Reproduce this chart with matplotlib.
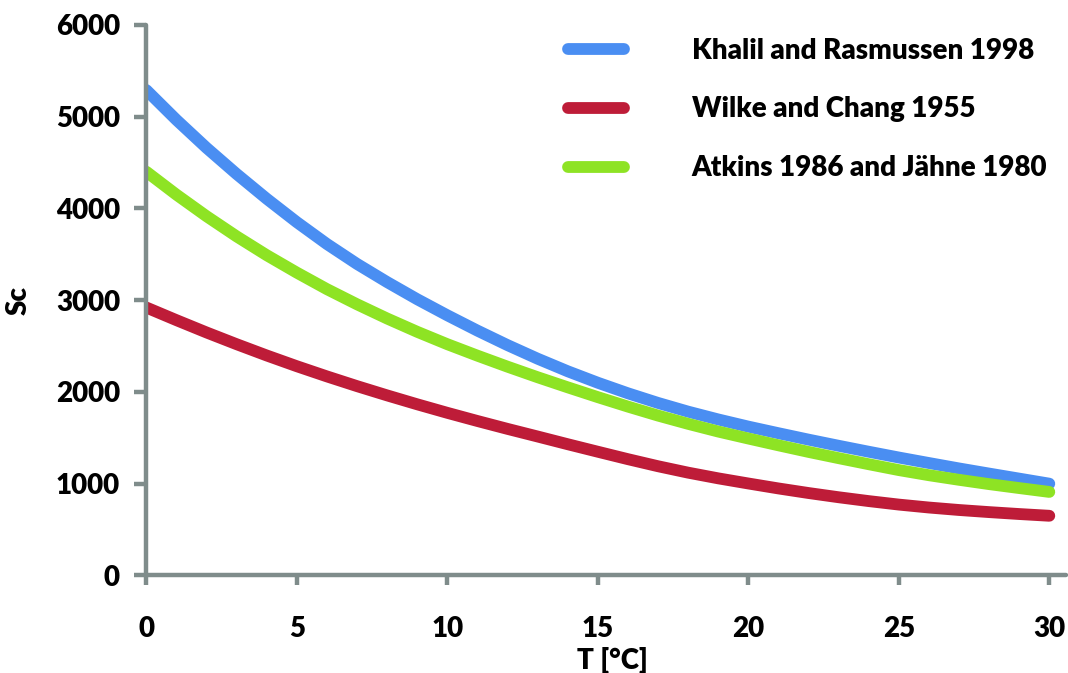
import matplotlib
matplotlib.use("Agg")
import matplotlib.pyplot as plt

# Schmidt number vs temperature for three diffusivity parameterisations
temp = list(range(0, 31))
sc_khalil = [5290, 4965, 4660, 4375, 4105, 3850, 3612, 3395, 3197, 3010, 2835,
             2668, 2510, 2362, 2225, 2100, 1985, 1880, 1785, 1700, 1622,
             1550, 1480, 1413, 1348, 1285, 1225, 1166, 1110, 1055, 1000]
sc_wilke = [2920, 2782, 2648, 2520, 2397, 2280, 2169, 2063, 1962, 1865, 1772,
            1683, 1597, 1514, 1430, 1348, 1267, 1190, 1120, 1058, 1002,
            948, 898, 852, 810, 772, 740, 713, 690, 669, 650]
sc_atkins = [4400, 4150, 3915, 3695, 3490, 3300, 3120, 2955, 2800, 2655, 2520,
             2395, 2275, 2160, 2050, 1943, 1840, 1742, 1652, 1568, 1492,
             1418, 1346, 1278, 1212, 1148, 1092, 1042, 995, 952, 910]

series = [
    ("Khalil and Rasmussen 1998", sc_khalil, "#4a8ef2"),
    ("Wilke and Chang 1955", sc_wilke, "#be1c38"),
    ("Atkins 1986 and Jähne 1980", sc_atkins, "#8ee324"),
]

x_ticks = [0, 5, 10, 15, 20, 25, 30]
y_ticks = [0, 1000, 2000, 3000, 4000, 5000, 6000]

axis_col = "#7f8c8b"
plt.rcParams["font.family"] = ["Lato", "DejaVu Sans"]
plt.rcParams["font.weight"] = "heavy"
plt.rcParams["font.size"] = 20

fig = plt.figure(figsize=(10.68, 6.73), dpi=100)
ax = fig.add_axes([0.137, 0.145, 0.861, 0.818])

for name, vals, col in series:
    ax.plot(temp, vals, color=col, lw=8.5, label=name,
            solid_capstyle="round", solid_joinstyle="round")

ax.set_xlim(0, 30.55)
ax.set_ylim(0, 6000)
ax.set_xticks(x_ticks)
ax.set_yticks(y_ticks)

for side in ("top", "right"):
    ax.spines[side].set_visible(False)
for side in ("left", "bottom"):
    ax.spines[side].set_color(axis_col)
    ax.spines[side].set_linewidth(3.2)
    ax.spines[side].set_capstyle("round")

ax.tick_params(axis="y", length=9, width=3.2, color=axis_col, pad=10)
ax.tick_params(axis="x", length=7, width=3.2, color=axis_col, pad=22)

ax.set_xlabel("T [°C]", fontweight="heavy")
ax.set_ylabel("Sc", fontweight="heavy")
ax.xaxis.set_label_coords(0.507, -0.13)
ax.yaxis.set_label_coords(-0.125, 0.5)

ax.legend(loc="upper left", bbox_to_anchor=(0.532, 0.944), bbox_transform=fig.transFigure,
          frameon=False, handlelength=2.0, handletextpad=2.45, labelspacing=1.18,
          borderpad=0, borderaxespad=0)

fig.savefig("out.png", dpi=100)
